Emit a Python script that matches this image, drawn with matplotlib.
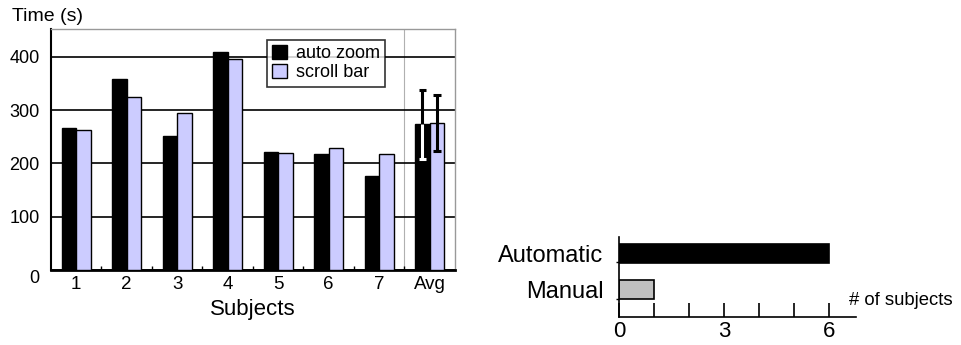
import numpy as np
import matplotlib
matplotlib.use("Agg")
import matplotlib.pyplot as plt
from matplotlib.transforms import ScaledTranslation

plt.rcParams['font.family'] = ['Liberation Sans', 'DejaVu Sans']

# --- left chart data ---
subjects = ['1', '2', '3', '4', '5', '6', '7', 'Avg']
auto_zoom = [266, 359, 251, 409, 221, 217, 176, 273]
scroll_bar = [262, 325, 295, 396, 220, 228, 217, 276]
avg_err_auto = 65
avg_err_scroll = 53
y_ticks = [0, 100, 200, 300, 400]

# --- right chart data ---
methods = ['Manual', 'Automatic']
n_subjects = [1, 6]
method_colors = ['#c0c0c0', 'black']
x_ticks_right = [0, 3, 6]

fig = plt.figure(figsize=(9.61, 3.45), dpi=100)

# ---------------- left: time per subject ----------------
ax = fig.add_axes([0.053, 0.2174, 0.4204, 0.6986])
x = np.arange(len(subjects))
w = 0.29
ax.bar(x - w / 2, auto_zoom, w, color='black', edgecolor='black', lw=1,
       label='auto zoom', zorder=3)
ax.bar(x + w / 2, scroll_bar, w, color='#ccccff', edgecolor='black', lw=1,
       label='scroll bar', zorder=3)

# error bars on the averages (white where it overlaps the black bar)
xa = x[-1] - w / 2
xs = x[-1] + w / 2
ya = auto_zoom[-1]
ys = scroll_bar[-1]
cap = 0.07
ax.vlines(xa, ya, ya + avg_err_auto, color='black', lw=2.2, zorder=4)
ax.hlines(ya + avg_err_auto, xa - cap, xa + cap, color='black', lw=2.2, zorder=4)
ax.vlines(xa, ya - avg_err_auto, ya, color='white', lw=2.2, zorder=4)
ax.hlines(ya - avg_err_auto, xa - cap, xa + cap, color='white', lw=2.2, zorder=4)
ax.vlines(xs, ys - avg_err_scroll, ys + avg_err_scroll, color='black', lw=2.2, zorder=4)
ax.hlines([ys - avg_err_scroll, ys + avg_err_scroll], xs - cap, xs + cap,
          color='black', lw=2.2, zorder=4)

ax.set_xlim(-0.5, len(subjects) - 0.5)
ax.set_ylim(0, 452)
ax.set_yticks(y_ticks)
ax.set_yticklabels([str(t) for t in y_ticks], fontsize=13)
ax.tick_params(axis='y', length=0, pad=8)
ax.set_xticks(x)
ax.set_xticklabels(subjects, fontsize=13.5)
ax.set_xticks(x[:-1] + 0.5, minor=True)
ax.tick_params(axis='x', which='major', length=0, pad=4)
ax.tick_params(axis='x', which='minor', direction='in', length=3, width=1)
ax.grid(axis='y', color='black', lw=1.2, zorder=1)
ax.axvline(x[-1] - 0.5, color='#b0b0b0', lw=0.8, zorder=1)

for s in ['top', 'right']:
    ax.spines[s].set_color('#999999')
    ax.spines[s].set_linewidth(1)
ax.spines['left'].set_linewidth(1.5)
ax.spines['bottom'].set_linewidth(2)

# push the "0" label below the axis line
zero_lbl = ax.get_yticklabels()[0]
zero_lbl.set_transform(zero_lbl.get_transform() +
                       ScaledTranslation(0, -7 / 100, fig.dpi_scale_trans))

ax.set_xlabel('Subjects', fontsize=16, labelpad=5)
ax.text(-0.097, 1.015, 'Time (s)', transform=ax.transAxes, fontsize=14,
        ha='left', va='bottom')

leg = ax.legend(loc='upper left', bbox_to_anchor=(0.535, 0.955), fontsize=13,
                frameon=True, fancybox=False, borderpad=0.3, handlelength=0.8,
                handleheight=0.8, handletextpad=0.5, labelspacing=0.1,
                borderaxespad=0)
leg.get_frame().set_edgecolor('black')
leg.get_frame().set_linewidth(1.2)
leg.set_zorder(5)

# ---------------- right: preferred method ----------------
ax2 = fig.add_axes([0.644, 0.0812, 0.2467, 0.2318])
y = np.arange(len(methods))
ax2.barh(y, n_subjects, 0.52, color=method_colors, edgecolor='black', lw=1.2)
ax2.set_xlim(0, 6.77)
ax2.set_ylim(-0.75, 1.45)
ax2.set_yticks(y)
ax2.set_yticklabels(methods, fontsize=17)
ax2.tick_params(axis='y', which='major', length=0, pad=11)
ax2.set_yticks(y - 0.25, minor=True)
ax2.tick_params(axis='y', which='minor', length=2, width=1)
ax2.set_xticks(x_ticks_right)
ax2.set_xticklabels([str(t) for t in x_ticks_right], fontsize=16)
ax2.set_xticks(np.arange(0, 7), minor=True)
ax2.tick_params(axis='x', which='both', direction='in', length=10, width=1.2, pad=3)
for s in ['top', 'right']:
    ax2.spines[s].set_visible(False)
ax2.spines['left'].set_linewidth(1.2)
ax2.spines['bottom'].set_linewidth(1.2)
ax2.text(0.97, 0.21, '# of subjects', transform=ax2.transAxes, fontsize=13.3,
         ha='left', va='center')

fig.savefig('out.png', dpi=100)
